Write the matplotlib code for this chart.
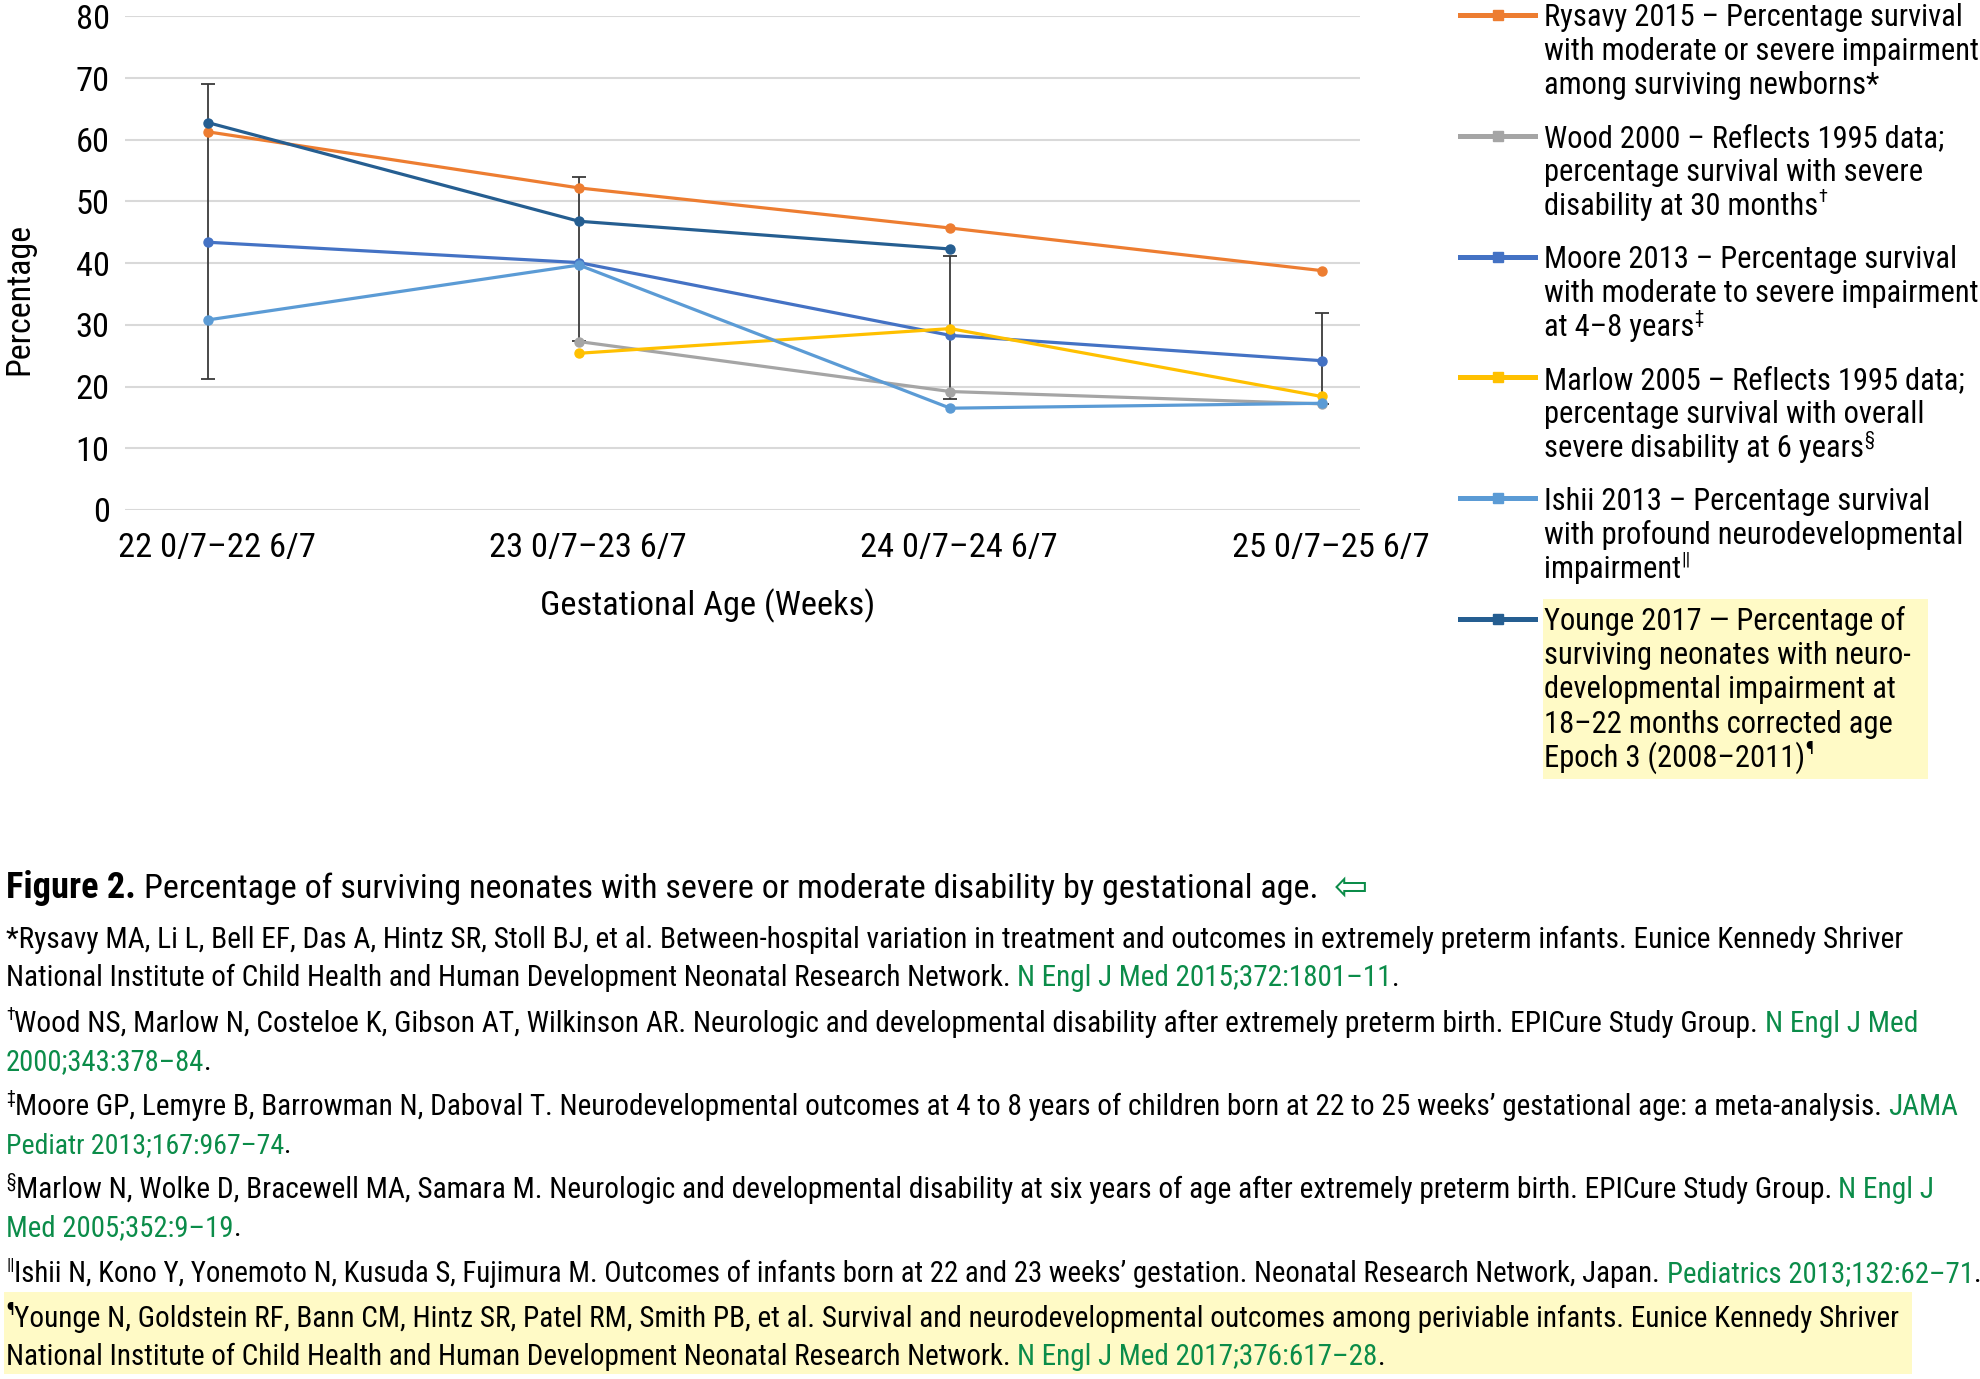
import numpy as np
import matplotlib
matplotlib.use("Agg")
import matplotlib.pyplot as plt
from matplotlib import font_manager as fm
from matplotlib.lines import Line2D
from matplotlib.patches import Rectangle
from matplotlib.transforms import ScaledTranslation

# ---------------- data ----------------
categories = ["22 0/7\u201322 6/7", "23 0/7\u201323 6/7", "24 0/7\u201324 6/7", "25 0/7\u201325 6/7"]
rysavy = [61.3, 52.2, 45.7, 38.8]
wood = [np.nan, 27.3, 19.2, 17.2]
moore = [43.4, 40.1, 28.3, 24.2]
moore_lo = [21.2, 27.4, 18.0, 17.1]
moore_hi = [69.1, 54.0, 41.2, 32.0]
marlow = [np.nan, 25.4, 29.4, 18.4]
ishii = [30.8, 39.7, 16.5, 17.3]
younge = [62.8, 46.8, 42.3, np.nan]
yticks = [0, 10, 20, 30, 40, 50, 60, 70, 80]

series_names = ["Rysavy", "Wood", "Moore", "Marlow", "Ishii", "Younge"]
series_vals = [rysavy, wood, moore, marlow, ishii, younge]
series_colors = ["#ED7D31", "#A5A5A5", "#4472C4", "#FFC000", "#5B9BD5", "#255E91"]

legend_lines = [
    [[("Rysavy 2015 \u2013 Percentage survival", "n")],
     [("with moderate or severe impairment", "n")],
     [("among surviving newborns*", "n")]],
    [[("Wood 2000 \u2013 Reflects 1995 data;", "n")],
     [("percentage survival with severe", "n")],
     [("disability at 30 months", "n"), ("\u2020", "sup")]],
    [[("Moore 2013 \u2013 Percentage survival", "n")],
     [("with moderate to severe impairment", "n")],
     [("at 4\u20138 years", "n"), ("\u2021", "sup")]],
    [[("Marlow 2005 \u2013 Reflects 1995 data;", "n")],
     [("percentage survival with overall", "n")],
     [("severe disability at 6 years", "n"), ("\u00a7", "sup")]],
    [[("Ishii 2013 \u2013 Percentage survival", "n")],
     [("with profound neurodevelopmental", "n")],
     [("impairment", "n"), ("||", "sup")]],
    [[("Younge 2017 \u2014 Percentage of", "n")],
     [("surviving neonates with neuro-", "n")],
     [("developmental impairment at", "n")],
     [("18\u201322 months corrected age", "n")],
     [("Epoch 3 (2008\u20132011)", "n"), ("\u00b6", "sup")]],
]

caption_bold = "Figure 2."
caption_text = " Percentage of surviving neonates with severe or moderate disability by gestational age."
caption_arrow = " \u21e6"

ref_lines = [
    [("*Rysavy MA, Li L, Bell EF, Das A, Hintz SR, Stoll BJ, et al. Between-hospital variation in treatment and outcomes in extremely preterm infants. Eunice Kennedy Shriver", "n")],
    [("National Institute of Child Health and Human Development Neonatal Research Network. ", "n"),
     ("N Engl J Med 2015;372:1801\u201311", "g"), (".", "n")],
    [("\u2020", "sup"), ("Wood NS, Marlow N, Costeloe K, Gibson AT, Wilkinson AR. Neurologic and developmental disability after extremely preterm birth. EPICure Study Group. ", "n"),
     ("N Engl J Med", "g")],
    [("2000;343:378\u201384", "g"), (".", "n")],
    [("\u2021", "sup"), ("Moore GP, Lemyre B, Barrowman N, Daboval T. Neurodevelopmental outcomes at 4 to 8 years of children born at 22 to 25 weeks\u2019 gestational age: a meta-analysis. ", "n"),
     ("JAMA", "g")],
    [("Pediatr 2013;167:967\u201374", "g"), (".", "n")],
    [("\u00a7", "sup"), ("Marlow N, Wolke D, Bracewell MA, Samara M. Neurologic and developmental disability at six years of age after extremely preterm birth. EPICure Study Group. ", "n"),
     ("N Engl J", "g")],
    [("Med 2005;352:9\u201319", "g"), (".", "n")],
    [("||", "sup"), ("Ishii N, Kono Y, Yonemoto N, Kusuda S, Fujimura M. Outcomes of infants born at 22 and 23 weeks\u2019 gestation. Neonatal Research Network, Japan. ", "n"),
     ("Pediatrics 2013;132:62\u201371", "g"), (".", "n")],
    [("\u00b6", "sup"), ("Younge N, Goldstein RF, Bann CM, Hintz SR, Patel RM, Smith PB, et al. Survival and neurodevelopmental outcomes among periviable infants. Eunice Kennedy Shriver", "n")],
    [("National Institute of Child Health and Human Development Neonatal Research Network. ", "n"),
     ("N Engl J Med 2017;376:617\u201328", "g"), (".", "n")],
]

# ---------------- fonts ----------------
names = {f.name for f in fm.fontManager.ttflist}
FONT = None
STRETCH = "normal"
for cand in ["Liberation Sans Narrow", "Roboto Condensed", "Open Sans Condensed",
             "DejaVu Sans Condensed", "Arial Narrow"]:
    if cand in names:
        FONT = cand
        break
if FONT is None:
    if any(f.name == "DejaVu Sans" and f.stretch == "condensed" for f in fm.fontManager.ttflist):
        FONT = "DejaVu Sans"
        STRETCH = "condensed"
    else:
        FONT = "Liberation Sans"
FK = dict(family=[FONT, "DejaVu Sans"], stretch=STRETCH)
plt.rcParams["font.family"] = [FONT, "DejaVu Sans"]

GREEN = "#0B8C49"
HILITE = "#FFFAC6"
W, H = 1980, 1379

fig = plt.figure(figsize=(W / 100, H / 100), dpi=100)
R = fig.canvas.get_renderer()


def text_w(s, size, weight="normal"):
    t = fig.text(0, 0, s, fontsize=size, weight=weight, **FK)
    w = t.get_window_extent(R).width
    t.remove()
    return w


def adv(s, size, weight="normal"):
    return text_w("|" + s + "|", size, weight) - text_w("||", size, weight)


def fit(s, target, weight="normal"):
    return 20.0 * target / adv(s, 20.0, weight)


def runs_width(runs, size):
    tot = 0.0
    for txt, kind in runs:
        s = size * 0.6 if kind == "sup" else size
        tot += adv(txt, s, "bold" if kind == "b" else "normal")
    return tot


def draw_runs(x, base, runs, size, bold_size=None):
    for txt, kind in runs:
        weight = "bold" if kind == "b" else "normal"
        s = size
        yb = base
        color = "black"
        if kind == "b" and bold_size:
            s = bold_size
        if kind == "sup":
            s = size * 0.6
            yb = base - size * 0.42 * 100 / 72
        if kind == "g":
            color = GREEN
        lead = len(txt) - len(txt.lstrip(" "))
        sp = adv(" ", s, weight)
        body = txt.strip(" ")
        if body:
            fig.text((x + lead * sp) / W, 1 - yb / H, body, fontsize=s, weight=weight,
                     color=color, va="baseline", ha="left", **FK)
        x += adv(txt, s, weight)
    return x


# ---------------- axes ----------------
ax_l, ax_r, ax_t, ax_b = 125, 1360, 16.4, 510
ax = fig.add_axes([ax_l / W, 1 - ax_b / H, (ax_r - ax_l) / W, (ax_b - ax_t) / H])
x = np.arange(len(categories))
sp_cat = 371.4
ax.set_xlim(-(207.6 - ax_l) / sp_cat, 3 + (ax_r - 1321.6) / sp_cat)
ax.set_ylim(0, 80)

mv = np.array(moore)
ax.errorbar(x, mv, yerr=[mv - np.array(moore_lo), np.array(moore_hi) - mv], fmt="none",
            ecolor="#3a3a3a", elinewidth=1.3, capsize=5, capthick=1.3, zorder=2)
for vals, c in zip(series_vals, series_colors):
    ax.plot(x, vals, color=c, lw=2.3, marker="o", ms=6.5, zorder=3)

ax.set_yticks(yticks)
ax.set_xticks(x)
tick_size = fit(categories[0], 197)
ax.set_xticklabels(categories, fontsize=tick_size, **FK)
ax.set_yticklabels([str(v) for v in yticks], fontsize=tick_size, **FK)
ax.tick_params(length=0)
ax.tick_params(axis="x", pad=16)
ax.tick_params(axis="y", pad=11)
shift = ScaledTranslation(0.09, 0, fig.dpi_scale_trans)
for tk in ax.xaxis.get_major_ticks():
    tk.label1.set_transform(tk.label1.get_transform() + shift)
ax.grid(axis="y", color="#D9D9D9", lw=1.5)
ax.set_axisbelow(True)
for s in ax.spines.values():
    s.set_visible(False)

xl_size = fit("Gestational Age (Weeks)", 335)
ax.set_xlabel("Gestational Age (Weeks)", fontsize=xl_size, **FK)
ax.xaxis.set_label_coords((708 - ax_l) / (ax_r - ax_l), (ax_b - 606) / (ax_b - ax_t))
ax.xaxis.label.set_va("center")
yl_size = fit("Percentage", 152)
ax.set_ylabel("Percentage", fontsize=yl_size, **FK)
ax.yaxis.set_label_coords((19 - ax_l) / (ax_r - ax_l), (ax_b - 299) / (ax_b - ax_t))
ax.yaxis.label.set_va("center")

# ---------------- legend (manual) ----------------
leg_size = fit("with moderate or severe impairment", 434)
leg_x = 1544
first_base = 26.5
entry_gap = 120.8
line_gap = 34.0
fig.patches.append(Rectangle((1543 / W, 1 - 779 / H), (1928 - 1543) / W, (779 - 599) / H,
                             transform=fig.transFigure, facecolor=HILITE, edgecolor="none", zorder=0))
for k, (lines, c) in enumerate(zip(legend_lines, series_colors)):
    b0 = first_base + k * entry_gap
    ky = b0 - 11.5
    fig.add_artist(Line2D([1460 / W, 1497.5 / W, 1535 / W], [1 - ky / H] * 3, color=c, lw=3.6,
                          marker="s", ms=7, markevery=[1], transform=fig.transFigure))
    for j, runs in enumerate(lines):
        draw_runs(leg_x, b0 + j * line_gap, runs, leg_size)

# ---------------- caption & references ----------------
bold_size = fit(caption_bold, 129, "bold")
cap_size = fit(caption_text, 1178)
xc = draw_runs(6, 898, [(caption_bold, "b")], cap_size, bold_size=bold_size)
xc = draw_runs(xc, 898, [(caption_text, "n")], cap_size)
draw_runs(xc + 6, 900, [(caption_arrow, "g")], cap_size * 1.2)

ref_size = fit(ref_lines[0][0][0], 1893)
ref_ends = [1899, 1397, 1918, 211, 1957, 292, 1937, 240, 1976, 1900, 1382]
ref_bases = [948, 986, 1032, 1070, 1115, 1153, 1198, 1236, 1282, 1327, 1365]
fig.patches.append(Rectangle((4 / W, 1 - 1374 / H), (1912 - 4) / W, (1374 - 1292) / H,
                             transform=fig.transFigure, facecolor=HILITE, edgecolor="none", zorder=0))
for b, runs, e in zip(ref_bases, ref_lines, ref_ends):
    w = runs_width(runs, ref_size)
    s = ref_size * min(1.0, (e - 6) / w) if w > (e - 6) else ref_size
    draw_runs(6, b, runs, s)

fig.savefig("out.png", dpi=100)
